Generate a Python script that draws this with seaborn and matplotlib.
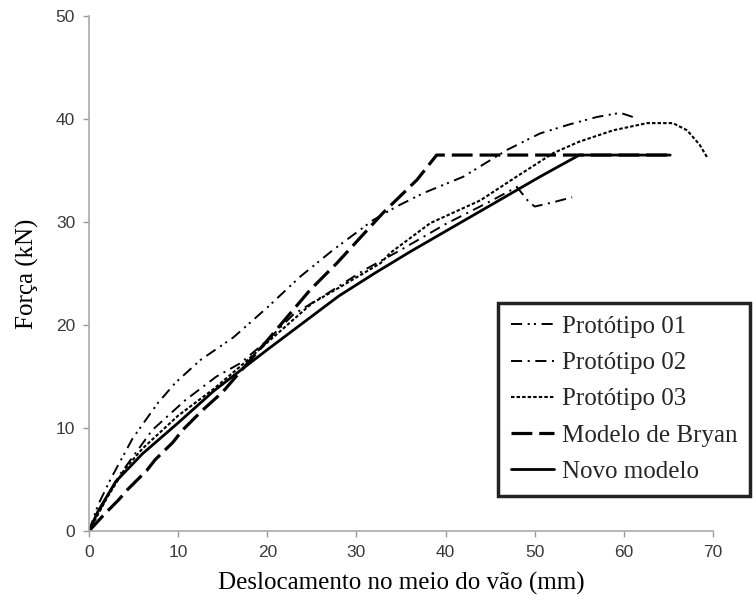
import numpy as np
import pandas as pd
import matplotlib
matplotlib.use("Agg")
import matplotlib.pyplot as plt
import seaborn as sns

# ---------------- data ----------------
p01_x = [0, 1, 2.4, 4.9, 7.7, 9.7, 12.5, 16.2, 20, 23.7, 27.4, 31.9, 34.5, 37.5, 42, 46.9, 50.6, 54, 57, 59.6, 61]
p01_y = [0, 2.5, 5.0, 9.0, 12.4, 14.4, 16.6, 18.8, 21.7, 24.7, 27.3, 30.2, 31.5, 32.8, 34.4, 37.0, 38.6, 39.5, 40.2, 40.6, 40.2]

p02_x = [0, 1, 3.4, 7.1, 10.8, 14.3, 17, 20, 22.9, 27, 30.8, 35, 40, 45, 48, 49.2, 50, 52, 54.2]
p02_y = [0, 1.7, 5.4, 9.8, 12.7, 15.0, 16.3, 18.5, 21.0, 23.2, 25.3, 27.3, 29.8, 32.0, 33.4, 32.1, 31.5, 31.9, 32.4]

p03_x = [0, 2, 4, 6, 10, 14, 17, 20, 25, 28.2, 32.7, 33.8, 38.3, 43.9, 47.6, 52.1, 55, 58.8, 62.6, 65.5, 67.1, 68.5, 69.4]
p03_y = [0, 3.2, 6.0, 8.0, 11.2, 13.8, 16.0, 18.3, 22.1, 23.7, 26.0, 27.0, 29.9, 32.1, 34.2, 36.7, 37.8, 38.9, 39.6, 39.6, 38.9, 37.5, 36.2]

bryan_x = [0, 1.8, 3.3, 4.3, 6.5, 7.4, 9.4, 10.5, 12.7, 15, 17, 20, 24.8, 27.8, 33, 36.8, 39, 65.2]
bryan_y = [0, 1.7, 3.0, 4.0, 5.9, 6.9, 8.6, 9.8, 11.7, 13.5, 15.5, 18.5, 23.4, 26.0, 30.9, 34.1, 36.5, 36.5]

novo_x = [0, 1, 3, 6, 10, 14, 20, 24, 28, 32, 36, 41, 46, 50.6, 55, 65.2]
novo_y = [0, 1.9, 4.8, 7.5, 10.5, 13.6, 17.6, 20.2, 22.8, 25.0, 27.1, 29.6, 32.1, 34.4, 36.5, 36.5]

labels = ["Protótipo 01", "Protótipo 02", "Protótipo 03", "Modelo de Bryan", "Novo modelo"]
x_ticks = [0, 10, 20, 30, 40, 50, 60, 70]
y_ticks = [0, 10, 20, 30, 40, 50]
x_label = "Deslocamento no meio do vão (mm)"
y_label = "Força (kN)"

# ---------------- style ----------------
sns.set_style("ticks")
plt.rcParams["lines.scale_dashes"] = False
plt.rcParams["font.family"] = ["Liberation Serif", "DejaVu Serif"]

fig = plt.figure(figsize=(7.56, 6.05), dpi=100)
ax = fig.add_axes([89 / 756, 1 - 531 / 605, 624 / 756, 515 / 605])

series = [
    (p01_x, p01_y, 1.4, (0, (8, 4, 1.5, 3, 1.5, 4))),
    (p02_x, p02_y, 1.4, (0, (8, 4, 1.5, 4))),
    (p03_x, p03_y, 1.5, (0, (2.5, 1.5))),
    (bryan_x, bryan_y, 2.3, (0, (15, 5))),
    (novo_x, novo_y, 2.0, "-"),
]

handles = []
for (xs, ys, lw, ls), lab in zip(series, labels):
    df = pd.DataFrame({"x": xs, "y": ys})
    sns.lineplot(data=df, x="x", y="y", ax=ax, sort=False, estimator=None,
                 color="black", linewidth=lw, legend=False)
    line = ax.lines[-1]
    line.set_linestyle(ls)
    handles.append(line)

if ax.get_legend() is not None:
    ax.get_legend().remove()

ax.set_xlim(0, 70)
ax.set_ylim(0, 50)
ax.set_xticks(x_ticks)
ax.set_yticks(y_ticks)
ax.set_xticklabels([str(v) for v in x_ticks], family=["Liberation Sans", "DejaVu Sans"],
                   fontsize=12.5, color="#3a3a3a")
ax.set_yticklabels([str(v) for v in y_ticks], family=["Liberation Sans", "DejaVu Sans"],
                   fontsize=12.5, color="#3a3a3a")
ax.tick_params(axis="both", length=4, width=1, color="#999999", pad=6)

for s in ["top", "right"]:
    ax.spines[s].set_visible(False)
for s in ["left", "bottom"]:
    ax.spines[s].set_color("#aaaaaa")
    ax.spines[s].set_linewidth(1.2)

ax.set_xlabel(x_label, fontsize=18, color="black", labelpad=9)
ax.set_ylabel(y_label, fontsize=18, color="black", labelpad=12)

leg = fig.legend(handles=handles, labels=labels, loc="upper left",
                 bbox_to_anchor=(498 / 756, 1 - 303 / 605),
                 fontsize=18, frameon=True, fancybox=False, framealpha=1,
                 handlelength=1.75, handletextpad=0.3, borderpad=0.5,
                 labelspacing=0.55, borderaxespad=0)
frame = leg.get_frame()
frame.set_edgecolor("#222222")
frame.set_linewidth(2.5)

fig.savefig("out.png", dpi=100)
